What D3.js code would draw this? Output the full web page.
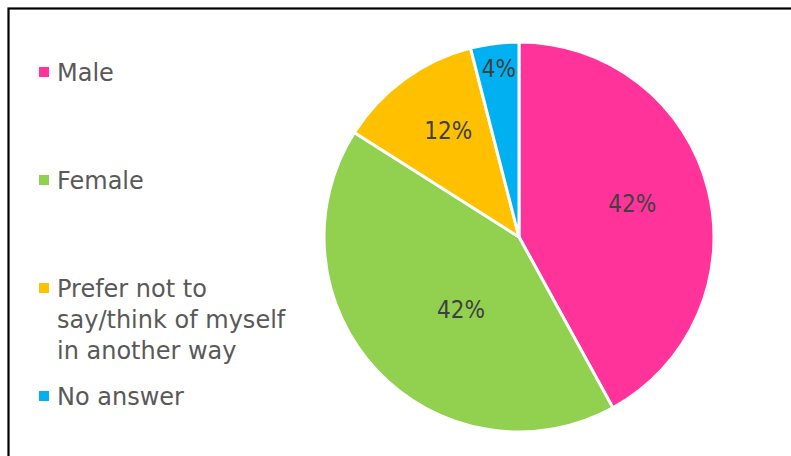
<!DOCTYPE html>
<html>
<head>
<meta charset="utf-8">
<script src="https://cdn.jsdelivr.net/npm/d3@7"></script>
<style>
  html, body { margin: 0; padding: 0; background: #fff; }
  svg { display: block; }
</style>
</head>
<body>
<svg id="chart" width="791" height="456"></svg>
<script>
// Gender breakdown of respondents
const categories = ["Male", "Female", "Prefer not to say/think of myself in another way", "No answer"];
const legendLines = [["Male"], ["Female"], ["Prefer not to", "say/think of myself", "in another way"], ["No answer"]];
const values = [42, 42, 12, 4];
const valueLabels = ["42%", "42%", "12%", "4%"];
const colors = ["#FF3399", "#92D050", "#FFC000", "#00B0F0"];

// Label placement: fraction of the radius along the slice midline, plus a small pixel nudge
const labelRadiusFrac = [0.6, 0.5, 0.66, 0.86];
const labelNudge = [[0, -5], [13, 6], [5, -3], [1, -2]];

const svg = d3.select("#chart");

// Frame (right and bottom edges run past the visible area)
svg.append("rect")
  .attr("x", 8.5).attr("y", 8.5)
  .attr("width", 820).attr("height", 480)
  .attr("fill", "#fff")
  .attr("stroke", "#000")
  .attr("stroke-width", 2.2);

const cx = 519, cy = 237, R = 195;

const pie = d3.pie().sort(null).value(d => d);
const arcs = pie(values);
const arc = d3.arc().innerRadius(0).outerRadius(R);

const g = svg.append("g").attr("transform", `translate(${cx},${cy})`);

g.selectAll("path.slice")
  .data(arcs)
  .join("path")
  .attr("class", "slice")
  .attr("d", arc)
  .attr("fill", (d, i) => colors[i])
  .attr("stroke", "#fff")
  .attr("stroke-width", 3)
  .attr("stroke-linejoin", "round");

g.selectAll("text.val")
  .data(arcs)
  .join("text")
  .attr("class", "val")
  .attr("transform", (d, i) => {
    const r = R * labelRadiusFrac[i];
    const a = (d.startAngle + d.endAngle) / 2;
    return `translate(${r * Math.sin(a) + labelNudge[i][0]},${-r * Math.cos(a) + labelNudge[i][1]})`;
  })
  .attr("text-anchor", "middle")
  .attr("dy", "0.36em")
  .attr("font-family", "'DejaVu Sans Condensed', 'DejaVu Sans', sans-serif")
  .attr("font-size", 24)
  .attr("fill", "#404040")
  .text((d, i) => valueLabels[i]);

// Legend
const legendTop = [81, 189, 297, 405];
const lineH = 31;
const legend = svg.append("g");
categories.forEach((c, i) => {
  const item = legend.append("g");
  item.append("rect")
    .attr("x", 39).attr("y", legendTop[i] - 14)
    .attr("width", 10).attr("height", 10)
    .attr("fill", colors[i]);
  const t = item.append("text")
    .attr("x", 57).attr("y", legendTop[i])
    .attr("font-family", "'DejaVu Sans', sans-serif")
    .attr("font-size", 24)
    .attr("fill", "#595959");
  legendLines[i].forEach((ln, j) => {
    t.append("tspan").attr("x", 57).attr("y", legendTop[i] + j * lineH).text(ln);
  });
});
</script>
</body>
</html>
